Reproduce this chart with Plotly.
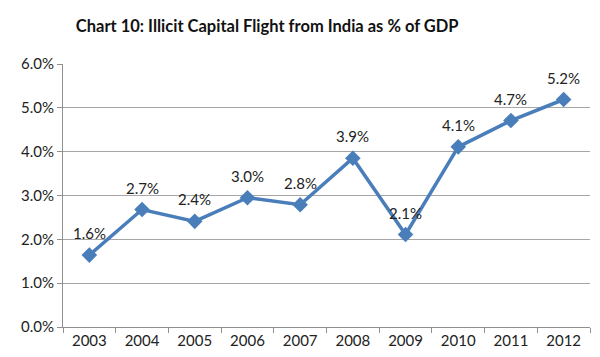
import plotly.graph_objects as go

years = ["2003", "2004", "2005", "2006", "2007", "2008", "2009", "2010", "2011", "2012"]
values = [1.64, 2.68, 2.41, 2.95, 2.79, 3.85, 2.11, 4.11, 4.71, 5.19]
labels = ["1.6%", "2.7%", "2.4%", "3.0%", "2.8%", "3.9%", "2.1%", "4.1%", "4.7%", "5.2%"]
y_ticks = [0, 1, 2, 3, 4, 5, 6]
y_tick_text = ["0.0%", "1.0%", "2.0%", "3.0%", "4.0%", "5.0%", "6.0%"]

font_family = "Lato, Open Sans, Liberation Sans, sans-serif"

fig = go.Figure()
fig.add_trace(go.Scatter(
    x=years, y=values, mode="lines+markers",
    line=dict(color="#4a7ebb", width=3.5),
    marker=dict(symbol="diamond", size=12, color="#4a7ebb"),
    cliponaxis=False,
    showlegend=False,
))

# on a category axis, annotation x is the category index
for i, (v, lab) in enumerate(zip(values, labels)):
    fig.add_annotation(x=i, y=v, xref="x", yref="y", text=lab, showarrow=False,
                       yanchor="middle", yshift=22,
                       font=dict(family=font_family, size=15, color="#222222"))

fig.update_layout(
    width=600, height=357,
    margin=dict(l=55, r=18, t=56, b=38),
    paper_bgcolor="white", plot_bgcolor="white",
    title=dict(text="<b>Chart 10: Illicit Capital Flight from India as % of GDP</b>",
               x=0.432, xanchor="center", xref="container",
               y=0.95, yanchor="middle", yref="container",
               font=dict(family=font_family, size=16.5, color="#111111")),
    font=dict(family=font_family, size=15, color="#222222"),
)
fig.update_xaxes(
    type="category", range=[-0.5, len(years) - 0.5],
    tickson="boundaries", ticks="outside", ticklen=5,
    tickcolor="#909090", showline=True, linecolor="#909090", linewidth=1,
    showgrid=False, tickfont=dict(size=15), tickangle=0,
)
fig.update_yaxes(
    range=[0, 6], tickvals=y_ticks, ticktext=y_tick_text,
    showgrid=True, gridcolor="#a6a6a6", gridwidth=1,
    showline=True, linecolor="#909090", linewidth=1,
    ticks="outside", ticklen=5, tickcolor="#909090",
    zeroline=False, tickfont=dict(size=15),
)

fig.write_html("out.html")
